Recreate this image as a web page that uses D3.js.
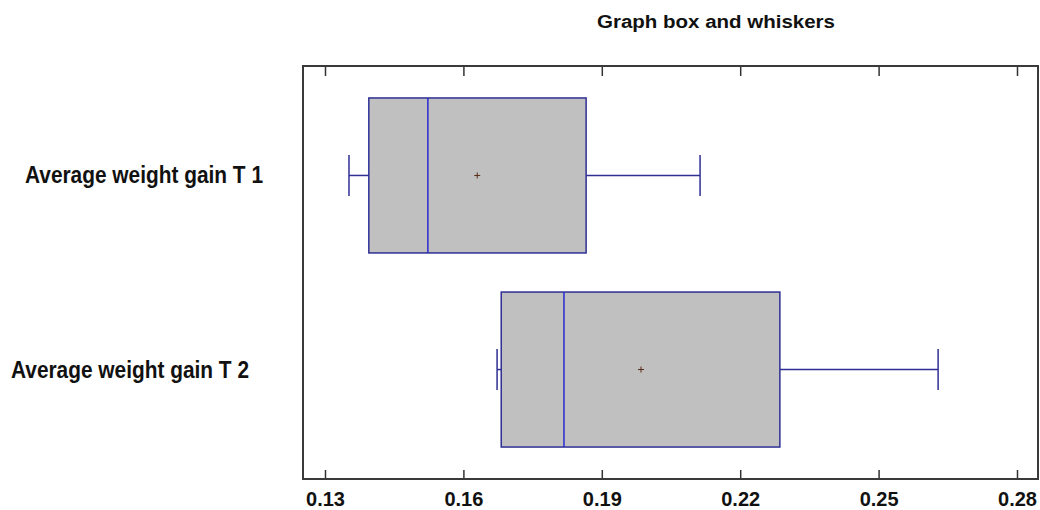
<!DOCTYPE html>
<html>
<head>
<meta charset="utf-8">
<script src="https://cdn.jsdelivr.net/npm/d3@7/dist/d3.min.js"></script>
<style>
  html, body { margin: 0; padding: 0; background: #ffffff; }
  svg { display: block; }
</style>
</head>
<body>
<svg id="chart" width="1040" height="510"></svg>
<script>
// ---- Data ----
const categories = ["Average weight gain T 1", "Average weight gain T 2"];
const mins    = [0.1352, 0.1673];
const q1s     = [0.1395, 0.1682];
const medians = [0.1523, 0.1818];
const means   = [0.1630, 0.1985];
const q3s     = [0.1866, 0.2286];
const maxs    = [0.2113, 0.2629];
const tickValues = [0.13, 0.16, 0.19, 0.22, 0.25, 0.28];
const tickLabels = ["0.13", "0.16", "0.19", "0.22", "0.25", "0.28"];
const title = "Graph box and whiskers";

const svg = d3.select("#chart");
const frame = { left: 303, right: 1038, top: 66, bottom: 479 };

const x = d3.scaleLinear().domain([0.13, 0.28]).range([325, 1017]);
const y = d3.scalePoint().domain(categories).range([frame.top, frame.bottom]).padding(0.564);
const boxH = 155, capH = 41;
const boxStroke = "#2f2f94", medStroke = "#2a2ad0";
const font = "'Liberation Sans', Arial, sans-serif";

// Title
svg.append("text")
  .attr("x", 716).attr("y", 28)
  .attr("text-anchor", "middle")
  .attr("font-family", font).attr("font-weight", "bold").attr("font-size", 18)
  .attr("textLength", 238).attr("lengthAdjust", "spacingAndGlyphs")
  .attr("fill", "#111")
  .text(title);

// Axes
const xb = d3.axisBottom(x).tickValues(tickValues)
  .tickFormat((d, i) => tickLabels[i]).tickSizeInner(-9).tickSizeOuter(0).tickPadding(13);
const gB = svg.append("g").attr("transform", `translate(0,${frame.bottom})`).call(xb);
gB.select(".domain").remove();
gB.selectAll(".tick line").attr("stroke", "#333").attr("stroke-width", 1.5);
gB.selectAll(".tick text")
  .attr("font-family", font).attr("font-weight", "bold").attr("font-size", 20)
  .attr("fill", "#111");

const xt = d3.axisTop(x).tickValues(tickValues).tickFormat("").tickSizeInner(-10).tickSizeOuter(0);
const gT = svg.append("g").attr("transform", `translate(0,${frame.top})`).call(xt);
gT.select(".domain").remove();
gT.selectAll(".tick line").attr("stroke", "#333").attr("stroke-width", 1.5);

// Frame
svg.append("rect")
  .attr("x", frame.left).attr("y", frame.top)
  .attr("width", frame.right - frame.left).attr("height", frame.bottom - frame.top)
  .attr("fill", "none").attr("stroke", "#3a3a3a").attr("stroke-width", 2);

// Category labels
const labelEnd = [263, 249];
svg.selectAll("text.cat").data(categories).enter().append("text")
  .attr("class", "cat")
  .attr("x", (d, i) => labelEnd[i])
  .attr("y", d => y(d) + 8)
  .attr("text-anchor", "end")
  .attr("font-family", font).attr("font-weight", "bold").attr("font-size", 23)
  .attr("textLength", 238).attr("lengthAdjust", "spacingAndGlyphs")
  .attr("fill", "#111")
  .text(d => d);

// Boxes
const g = svg.append("g");
categories.forEach((c, i) => {
  const cy = y(c);
  // whiskers
  g.append("line").attr("x1", x(mins[i])).attr("x2", x(q1s[i])).attr("y1", cy).attr("y2", cy)
    .attr("stroke", boxStroke).attr("stroke-width", 1.5);
  g.append("line").attr("x1", x(q3s[i])).attr("x2", x(maxs[i])).attr("y1", cy).attr("y2", cy)
    .attr("stroke", boxStroke).attr("stroke-width", 1.5);
  g.append("line").attr("x1", x(mins[i])).attr("x2", x(mins[i])).attr("y1", cy - capH / 2).attr("y2", cy + capH / 2)
    .attr("stroke", boxStroke).attr("stroke-width", 1.5);
  g.append("line").attr("x1", x(maxs[i])).attr("x2", x(maxs[i])).attr("y1", cy - capH / 2).attr("y2", cy + capH / 2)
    .attr("stroke", boxStroke).attr("stroke-width", 1.5);
  // box
  g.append("rect").attr("x", x(q1s[i])).attr("y", cy - boxH / 2)
    .attr("width", x(q3s[i]) - x(q1s[i])).attr("height", boxH)
    .attr("fill", "#c0c0c0").attr("stroke", boxStroke).attr("stroke-width", 1.5);
  // median
  g.append("line").attr("x1", x(medians[i])).attr("x2", x(medians[i]))
    .attr("y1", cy - boxH / 2).attr("y2", cy + boxH / 2)
    .attr("stroke", medStroke).attr("stroke-width", 1.5);
  // mean marker
  const mx = x(means[i]);
  g.append("line").attr("x1", mx - 3).attr("x2", mx + 3).attr("y1", cy).attr("y2", cy)
    .attr("stroke", "#5a2a1a").attr("stroke-width", 1);
  g.append("line").attr("x1", mx).attr("x2", mx).attr("y1", cy - 3).attr("y2", cy + 3)
    .attr("stroke", "#5a2a1a").attr("stroke-width", 1);
});
</script>
</body>
</html>
